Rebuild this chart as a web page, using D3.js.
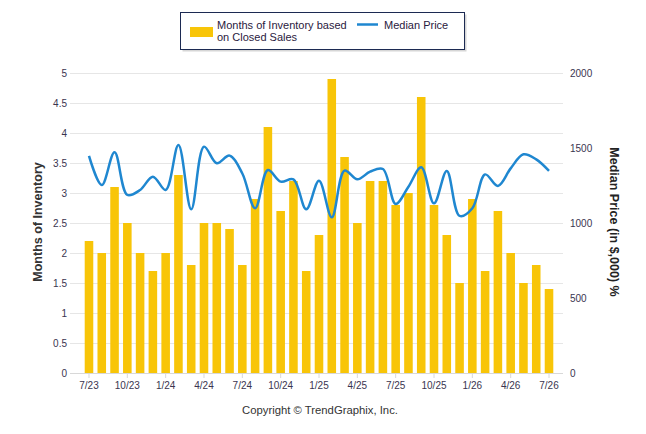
<!DOCTYPE html>
<html>
<head>
<meta charset="utf-8">
<script src="https://cdn.jsdelivr.net/npm/d3@7"></script>
<style>
  body { margin: 0; background: #fff; }
  svg { font-family: "Liberation Sans", Arial, sans-serif; }
</style>
</head>
<body>
<svg id="chart" width="646" height="434"></svg>
<script>
// Month labels, one per bar (7/23 .. 7/26)
let months = ["7/23","8/23","9/23","10/23","11/23","12/23","1/24","2/24","3/24","4/24","5/24","6/24",
              "7/24","8/24","9/24","10/24","11/24","12/24","1/25","2/25","3/25","4/25","5/25","6/25",
              "7/25","8/25","9/25","10/25","11/25","12/25","1/26","2/26","3/26","4/26","5/26","6/26","7/26"];

// Months of inventory based on closed sales
let inventory = [2.2, 2.0, 3.1, 2.5, 2.0, 1.7, 2.0, 3.3, 1.8, 2.5, 2.5, 2.4,
                 1.8, 2.9, 4.1, 2.7, 3.2, 1.7, 2.3, 4.9, 3.6, 2.5, 3.2, 3.2,
                 2.8, 3.0, 4.6, 2.8, 2.3, 1.5, 2.9, 1.7, 2.7, 2.0, 1.5, 1.8, 1.4];

// Median price in $,000
let medianPrice = [1447, 1253, 1471, 1187, 1220, 1309, 1220, 1520, 1091, 1509, 1398, 1449,
                   1330, 1098, 1353, 1276, 1291, 1091, 1282, 1038, 1349, 1291, 1342, 1360,
                   1127, 1242, 1371, 1131, 1347, 1047, 1098, 1324, 1247, 1364, 1458, 1424, 1347];

let leftTicks = [0, 0.5, 1, 1.5, 2, 2.5, 3, 3.5, 4, 4.5, 5];
let rightTicks = [0, 500, 1000, 1500, 2000];
let xLabels = ["7/23","10/23","1/24","4/24","7/24","10/24","1/25","4/25","7/25","10/25","1/26","4/26","7/26"];

let svg = d3.select("#chart");

let plotLeft = 70, plotRight = 563, plotTop = 73, plotBottom = 373;

// Scales
let x = d3.scaleBand()
    .domain(months)
    .range([82.6, 555.4])
    .paddingInner(0.33)
    .paddingOuter(0.165);

let yLeft = d3.scaleLinear().domain([0, 5]).range([plotBottom, plotTop]);
let yRight = d3.scaleLinear().domain([0, 2000]).range([plotBottom, plotTop]);

let tickColor = "#3a3550";

// Gridlines
svg.append("g")
    .selectAll("line")
    .data(leftTicks)
    .join("line")
    .attr("x1", plotLeft)
    .attr("x2", plotRight)
    .attr("y1", d => Math.round(yLeft(d)) + 0.5)
    .attr("y2", d => Math.round(yLeft(d)) + 0.5)
    .attr("stroke", "#e6e6e6")
    .attr("stroke-width", 1);

// Left axis labels
svg.append("g")
    .selectAll("text")
    .data(leftTicks)
    .join("text")
    .attr("x", 67)
    .attr("y", d => yLeft(d) + 3.5)
    .attr("text-anchor", "end")
    .attr("font-size", "10px")
    .attr("fill", tickColor)
    .text(d => d);

// Right axis labels
svg.append("g")
    .selectAll("text")
    .data(rightTicks)
    .join("text")
    .attr("x", 570)
    .attr("y", d => yRight(d) + 3.5)
    .attr("text-anchor", "start")
    .attr("font-size", "10px")
    .attr("fill", tickColor)
    .text(d => d);

// Bars
svg.append("g")
    .selectAll("rect")
    .data(inventory)
    .join("rect")
    .attr("x", (d, i) => x(months[i]))
    .attr("width", x.bandwidth())
    .attr("y", d => yLeft(d))
    .attr("height", d => yLeft(0) - yLeft(d))
    .attr("fill", "#f8c508");

// X axis baseline and ticks
svg.append("line")
    .attr("x1", plotLeft).attr("x2", plotRight)
    .attr("y1", plotBottom + 0.5).attr("y2", plotBottom + 0.5)
    .attr("stroke", "#d8d8d8");

let xTicks = svg.append("g")
    .selectAll("g")
    .data(xLabels)
    .join("g")
    .attr("transform", d => `translate(${x(d) + x.bandwidth() / 2},0)`);

xTicks.append("line")
    .attr("y1", plotBottom).attr("y2", plotBottom + 5)
    .attr("stroke", "#d8d8d8");

xTicks.append("text")
    .attr("y", plotBottom + 16)
    .attr("text-anchor", "middle")
    .attr("font-size", "10px")
    .attr("fill", tickColor)
    .text(d => d);

// Median price line
let line = d3.line()
    .x((d, i) => x(months[i]) + x.bandwidth() / 2)
    .y(d => yRight(d))
    .curve(d3.curveCatmullRom.alpha(0.5));

svg.append("path")
    .datum(medianPrice)
    .attr("d", line)
    .attr("fill", "none")
    .attr("stroke", "#1f87d0")
    .attr("stroke-width", 2.5);

// Axis titles
svg.append("text")
    .attr("transform", "translate(42,222) rotate(-90)")
    .attr("text-anchor", "middle")
    .attr("font-size", "12.5px")
    .attr("font-weight", "bold")
    .attr("fill", "#333")
    .text("Months of Inventory");

svg.append("text")
    .attr("transform", "translate(610,222) rotate(90)")
    .attr("text-anchor", "middle")
    .attr("font-size", "12.5px")
    .attr("font-weight", "bold")
    .attr("fill", "#222")
    .text("Median Price (in $,000) %");

// Legend
let legend = svg.append("g");

legend.append("rect")
    .attr("x", 182.5).attr("y", 14.5)
    .attr("width", 284).attr("height", 37)
    .attr("fill", "#999").attr("opacity", 0.4);

legend.append("rect")
    .attr("x", 180.5).attr("y", 12.5)
    .attr("width", 284).attr("height", 37)
    .attr("fill", "#fff")
    .attr("stroke", "#1c2a52")
    .attr("stroke-width", 1);

legend.append("rect")
    .attr("x", 190).attr("y", 27)
    .attr("width", 23).attr("height", 10)
    .attr("fill", "#f8c508");

legend.append("text")
    .attr("x", 217).attr("y", 29)
    .attr("font-size", "11px")
    .attr("fill", "#2a2040")
    .text("Months of Inventory based");

legend.append("text")
    .attr("x", 217).attr("y", 41)
    .attr("font-size", "11px")
    .attr("fill", "#2a2040")
    .text("on Closed Sales");

legend.append("line")
    .attr("x1", 357).attr("x2", 378)
    .attr("y1", 24.5).attr("y2", 24.5)
    .attr("stroke", "#1f87d0")
    .attr("stroke-width", 2.5);

legend.append("text")
    .attr("x", 384).attr("y", 29)
    .attr("font-size", "11px")
    .attr("fill", "#2a2040")
    .text("Median Price");

// Copyright
svg.append("text")
    .attr("x", 320).attr("y", 414)
    .attr("text-anchor", "middle")
    .attr("font-size", "11.3px")
    .attr("fill", "#333")
    .text("Copyright \u00A9 TrendGraphix, Inc.");
</script>
</body>
</html>
